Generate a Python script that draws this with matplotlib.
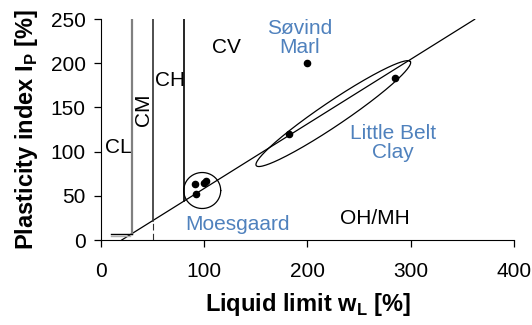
import numpy as np
import matplotlib
matplotlib.use("Agg")
import matplotlib.pyplot as plt

plt.rcParams['font.family'] = ['Liberation Sans', 'DejaVu Sans']
plt.rcParams['mathtext.fontset'] = 'custom'
plt.rcParams['mathtext.rm'] = 'Liberation Sans'
plt.rcParams['mathtext.bf'] = 'Liberation Sans:bold'

# measured samples (liquid limit, plasticity index)
moes_wl = [91, 100, 102, 92]
moes_ip = [63, 65, 67, 52]
belt_wl = [182, 285]
belt_ip = [120, 183]
sovind_wl = [200]
sovind_ip = [200]

# classification boundaries
wl_limits = [30, 50, 80]
aline_start = 20
aline_slope = 0.73
aline_end = 362

blue = '#4f81bd'

fig = plt.figure(figsize=(5.32, 3.25), dpi=100)
ax = fig.add_axes([0.19, 0.2615, 0.776, 0.68])

# A-line
xa = np.array([aline_start, aline_end])
ax.plot(xa, aline_slope * (xa - aline_start), color='black', lw=0.9)

def aline(w):
    return aline_slope * (w - aline_start)

# vertical boundaries
ax.plot([wl_limits[0]] * 2, [7, 250], color='#808080', lw=1.6)
ax.plot([wl_limits[1]] * 2, [aline(50), 250], color='#303030', lw=1.2)
ax.plot([wl_limits[1]] * 2, [0, aline(50)], color='#303030', lw=0.8, ls=(0, (6, 3)))
ax.plot([wl_limits[2]] * 2, [aline(80), 250], color='black', lw=1.2)
ax.plot([10, 30], [7, 7], color='black', lw=1.0)
ax.plot([10, 28], [4, 4], color='#b0b0b0', lw=1.0)

# points
ax.scatter(moes_wl + belt_wl + sovind_wl, moes_ip + belt_ip + sovind_ip,
           s=20, color='black', zorder=5)

# encircling ellipses (drawn in pixel-proportional space)
sx, sy = 1.0325, 0.884  # pixels per data unit
def ring(cx, cy, a, b, ang):
    t = np.linspace(0, 2 * np.pi, 200)
    th = np.radians(ang)
    dx = a * np.cos(t) * np.cos(th) - b * np.sin(t) * np.sin(th)
    dy = a * np.cos(t) * np.sin(th) + b * np.sin(t) * np.cos(th)
    ax.plot(cx + dx / sx, cy + dy / sy, color='black', lw=0.9)

ring(98, 56, 18.5, 18, 0)
ring(225, 143, 93, 12, 34)

# zone labels
fs = 15
ax.text(17, 105, 'CL', fontsize=fs, ha='center', va='center')
ax.text(41, 147, 'CM', fontsize=fs, ha='center', va='center', rotation=90)
ax.text(67, 181, 'CH', fontsize=fs, ha='center', va='center')
ax.text(121, 218, 'CV', fontsize=fs, ha='center', va='center')
ax.text(265, 24, 'OH/MH', fontsize=fs, ha='center', va='center')
ax.text(192, 229, 'Søvind\nMarl', fontsize=fs, ha='center', va='center',
        color=blue, linespacing=1.0)
ax.text(283, 110, 'Little Belt\nClay', fontsize=fs, ha='center', va='center',
        color=blue, linespacing=1.0)
ax.text(132, 17, 'Moesgaard', fontsize=fs, ha='center', va='center', color=blue)

ax.set_xlim(0, 400)
ax.set_ylim(0, 250)
ax.set_xticks([0, 100, 200, 300, 400])
ax.set_yticks([0, 50, 100, 150, 200, 250])
ax.tick_params(labelsize=15, length=5, width=0.9)
ax.tick_params(axis='x', pad=11)
ax.tick_params(axis='y', pad=6)
ax.spines['top'].set_visible(False)
ax.spines['right'].set_visible(False)
ax.set_xlabel(r'Liquid limit w$_\mathbf{L}$ [%]', fontsize=17, fontweight='bold', labelpad=7)
ax.set_ylabel(r'Plasticity index I$_\mathbf{P}$ [%]', fontsize=17, fontweight='bold', labelpad=8)

fig.savefig('out.png', dpi=100)
